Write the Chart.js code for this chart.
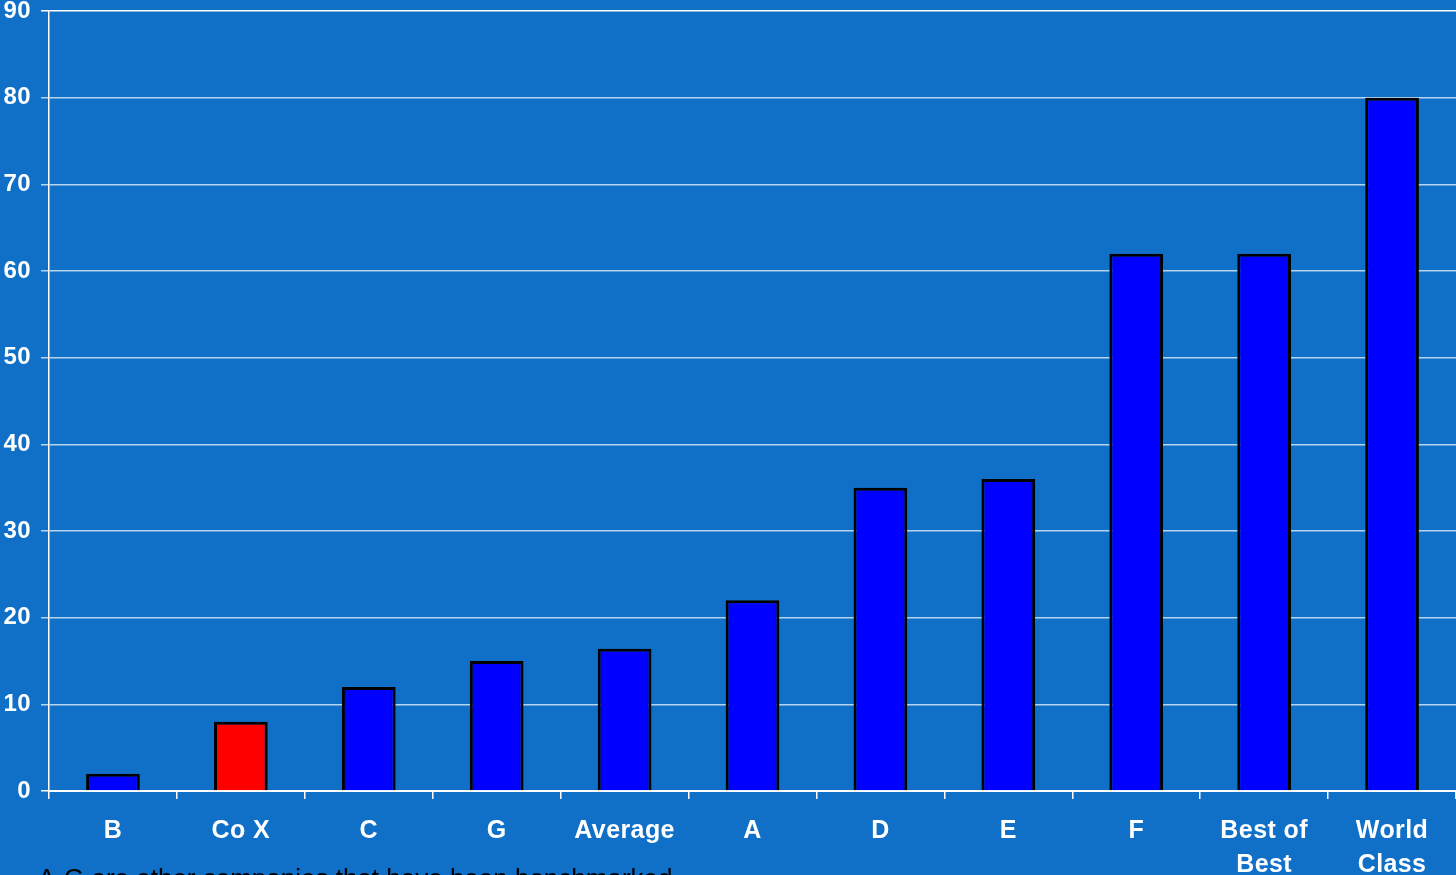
<!DOCTYPE html>
<html>
<head>
<meta charset="utf-8">
<script src="https://cdn.jsdelivr.net/npm/chart.js@4/dist/chart.umd.min.js"></script>
<style>
  html, body { margin: 0; padding: 0; background: #106fc6; overflow: hidden; }
  #wrap { position: relative; width: 1456px; height: 875px; }
  #note {
    position: absolute; left: 38px; top: 863px;
    font-family: "Liberation Sans", Arial, sans-serif; font-size: 26px; color: #000;
    white-space: nowrap;
  }
</style>
</head>
<body>
<div id="wrap">
  <canvas id="chart" width="1456" height="875"></canvas>
  <div id="note">A-G are other companies that have been benchmarked</div>
</div>
<script>
const categories = ['B', 'Co X', 'C', 'G', 'Average', 'A', 'D', 'E', 'F', ['Best of', 'Best'], ['World', 'Class']];
const values = [2, 8, 12, 15, 16.4, 22, 35, 36, 62, 62, 80];
const barColors = ['#0000ff', '#ff0000', '#0000ff', '#0000ff', '#0000ff', '#0000ff',
                   '#0000ff', '#0000ff', '#0000ff', '#0000ff', '#0000ff'];

// slightly spaced lettering like the original slide
const spacing = {
    id: 'spacing',
    beforeUpdate: (chart) => { chart.ctx.letterSpacing = '0.4px'; },
    beforeDraw: (chart) => { chart.ctx.letterSpacing = '0.4px'; }
};

const ctx = document.getElementById('chart').getContext('2d');
new Chart(ctx, {
    type: 'bar',
    data: {
        labels: categories,
        datasets: [{
            data: values,
            backgroundColor: barColors,
            borderColor: '#000',
            borderWidth: 3,
            borderSkipped: 'bottom',
            categoryPercentage: 1,
            barPercentage: 0.42
        }]
    },
    options: {
        responsive: false,
        animation: false,
        layout: { padding: { top: 11, right: 0, left: 0, bottom: 0 } },
        plugins: {
            legend: { display: false },
            tooltip: { enabled: false }
        },
        scales: {
            x: {
                grid: {
                    offset: true,
                    drawOnChartArea: false,
                    color: '#ffffff',
                    tickLength: 8,
                    lineWidth: 1.5
                },
                border: { color: '#ffffff', width: 2 },
                ticks: {
                    color: '#ffffff',
                    maxRotation: 0,
                    autoSkip: false,
                    padding: 15,
                    font: { family: '"Liberation Sans", Arial, sans-serif', size: 25, weight: 'bold', lineHeight: 1.35 }
                },
                afterFit: (axis) => { axis.height = 84; axis.paddingLeft = 0; axis.paddingRight = 0; }
            },
            y: {
                min: 0,
                max: 90,
                ticks: {
                    stepSize: 10,
                    color: '#ffffff',
                    padding: 10,
                    font: { family: '"Liberation Sans", Arial, sans-serif', size: 24, weight: 'bold' }
                },
                grid: {
                    color: (c) => c.tick && (c.tick.value === 90 || c.tick.value === 0) ? '#ffffff' : 'rgba(255,255,255,0.7)',
                    lineWidth: 1.5,
                    tickLength: 8
                },
                border: { color: '#ffffff', width: 1.5 },
                afterFit: (axis) => { axis.width = 49; axis.paddingTop = 0; axis.paddingBottom = 0; }
            }
        }
    },
    plugins: [spacing]
});
</script>
</body>
</html>
